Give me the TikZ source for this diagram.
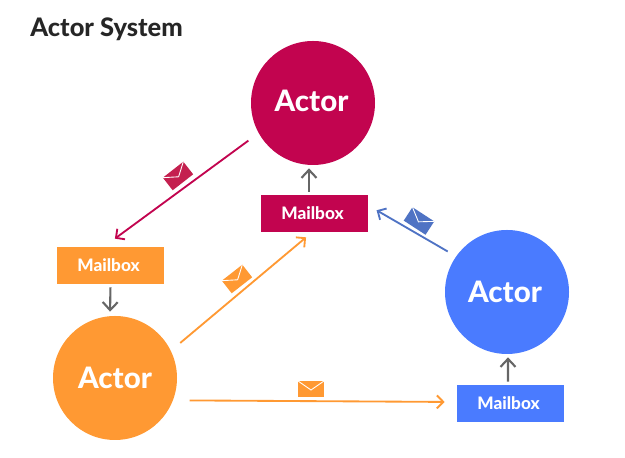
\documentclass[tikz,border=0pt]{standalone}
\usepackage{fontspec}
\setmainfont[BoldFont={Lato Heavy}]{Lato}
\usetikzlibrary{arrows.meta}
\definecolor{actorred}{HTML}{C2044F}
\definecolor{actororange}{HTML}{FF9933}
\definecolor{actorblue}{HTML}{4A7BFF}
\definecolor{mailred}{HTML}{C4204F}
\definecolor{mailblue}{HTML}{4F73C4}
\definecolor{stemgray}{HTML}{666666}
\tikzset{
    actor/.style={circle,minimum size=2.48cm,inner sep=0pt,text=white,font=\bfseries\fontsize{16.8}{20}\selectfont},
    mailbox/.style={minimum width=2.14cm,minimum height=0.74cm,inner sep=0pt,text=white,font=\bfseries\fontsize{9.8}{12}\selectfont,execute at begin node={\hspace*{-0.08cm}}},
    stem/.style={draw=stemgray,line width=1.2pt,-{Straight Barb[length=1.6mm,width=3mm]}},
    msg/.style={line width=1.05pt,-{Straight Barb[length=1.3mm,width=2.6mm]}},
    pics/envelope/.style={code={
        \fill[#1] (-0.26,-0.16) rectangle (0.26,0.16);
        \draw[white,line width=0.5pt] (-0.26,0.16) -- (0,-0.02) -- (0.26,0.16);
    }}
}
\begin{document}
\begin{tikzpicture}
    \useasboundingbox (0,0) rectangle (12.5,9.16);
    \node[anchor=west,inner sep=0pt,font=\bfseries\fontsize{14.5}{18}\selectfont,text=black!85] (title) at (0.6,8.58) {Actor System};

    \node[actor,fill=actorred] (actorR) at (6.26,7.10) {\raisebox{0.08cm}{\hspace*{-0.06cm}Actor}};
    \node[actor,fill=actororange] (actorO) at (2.30,1.60) {Actor};
    \node[actor,fill=actorblue] (actorB) at (10.14,3.32) {\hspace*{-0.08cm}Actor};

    \node[mailbox,fill=actorred] (boxR) at (6.29,4.89) {Mailbox};
    \node[mailbox,fill=actororange] (boxO) at (2.21,3.85) {Mailbox};
    \node[mailbox,fill=actorblue] (boxB) at (10.21,1.09) {Mailbox};

    \draw[stem,shorten <=0.06cm,shorten >=0.06cm] ([xshift=-0.11cm]boxR.north) -- ([xshift=-0.08cm]actorR.south);
    \draw[stem,shorten <=0.06cm,shorten >=0.08cm] (boxO.south) -- ([xshift=-0.10cm]actorO.north);
    \draw[stem,shorten <=0.06cm,shorten >=0.06cm] ([xshift=-0.05cm]boxB.north) -- ([xshift=0.02cm]actorB.south);

    \draw[msg,actorred,shorten <=0.25cm,shorten >=0.27cm] (actorR.209.5) -- ([xshift=-0.13cm]boxO.north);
    \draw[msg,actororange,shorten <=0.24cm,shorten >=0.155cm] (actorO.26.1) -- ([xshift=-0.05cm]boxR.south);
    \draw[msg,actororange,shorten <=0.33cm,shorten >=0.24cm] (actorO.-21.8) -- ([yshift=0.03cm]boxB.west);
    \draw[msg,mailblue,shorten <=0.19cm,shorten >=0.19cm] (actorB.145.3) -- ([yshift=0.16cm]boxR.east);

    \pic[rotate=38] (mailR) at (3.56,5.64) {envelope=mailred};
    \pic[rotate=38] (mailO) at (4.74,3.58) {envelope=actororange};
    \pic (mailH) at (6.22,1.38) {envelope=actororange};
    \pic[rotate=-33] (mailB) at (8.38,4.74) {envelope=mailblue};
\end{tikzpicture}
\end{document}
